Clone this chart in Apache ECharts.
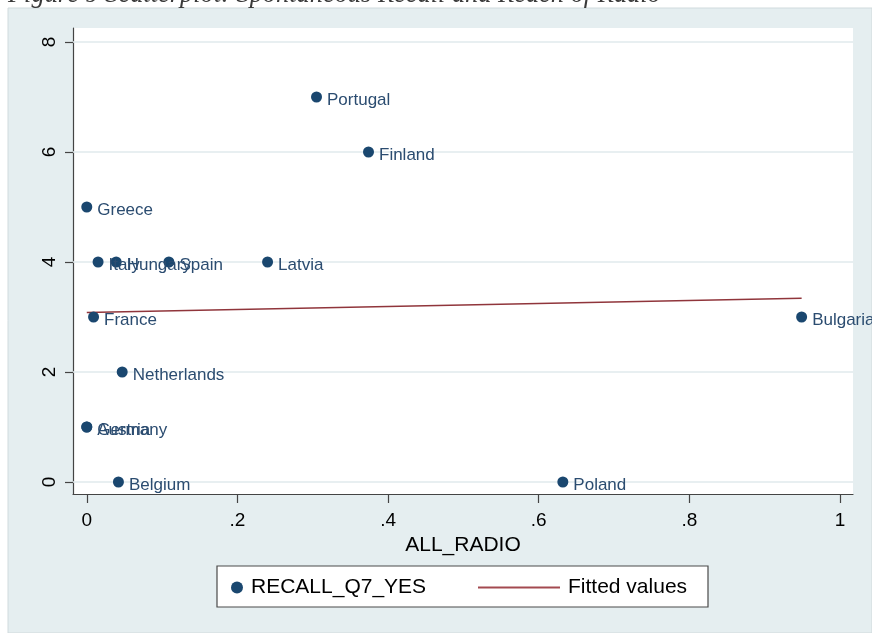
<!DOCTYPE html>
<html>
<head>
<meta charset="utf-8">
<title>Spontaneous Recall and Reach of Radio</title>
<script src="https://cdn.jsdelivr.net/npm/echarts@6/dist/echarts.min.js"></script>
<style>
  html, body { margin: 0; padding: 0; background: #ffffff; }
  #chart { width: 872px; height: 633px; }
</style>
</head>
<body>
<div id="chart"></div>
<script>
// Country-level observations: share reached by radio vs. spontaneous recall count
const countries = ['Portugal', 'Finland', 'Greece', 'Italy', 'Hungary', 'Spain', 'Latvia',
  'France', 'Bulgaria', 'Netherlands', 'Austria', 'Germany', 'Belgium', 'Poland'];
const radioReach = [0.305, 0.374, 0.0, 0.015, 0.039, 0.109, 0.240,
  0.009, 0.949, 0.047, 0.0, 0.0, 0.042, 0.632];
const recallYes = [7, 6, 5, 4, 4, 4, 4, 3, 3, 2, 1, 1, 0, 0];

// Linear fit endpoints over the observed range of ALL_RADIO
const fitX = [0, 0.949];
const fitY = [3.08, 3.34];

// Axis ticks
const xTicks = [0, 0.2, 0.4, 0.6, 0.8, 1];
const xTickLabels = ['0', '.2', '.4', '.6', '.8', '1'];
const yTicks = [0, 2, 4, 6, 8];
const yTickLabels = ['0', '2', '4', '6', '8'];

const navy = '#1a476f';
const maroon = '#90353b';
const font = 'Liberation Sans, Arial, Helvetica, sans-serif';

const scatterData = countries.map((c, i) => ({ name: c, value: [radioReach[i], recallYes[i]] }));
const fitData = fitX.map((x, i) => [x, fitY[i]]);

const chart = echarts.init(document.getElementById('chart'), null, { renderer: 'canvas' });

chart.setOption({
  backgroundColor: '#ffffff',
  animation: false,
  textStyle: { fontFamily: font },
  graphic: [
    {
      type: 'rect', z: -10, silent: true,
      shape: { x: 8, y: 8, width: 864, height: 625 },
      style: { fill: '#e5eef0', stroke: '#d0dadd', lineWidth: 1 }
    },
    {
      type: 'text', z: 5, silent: true,
      x: 8, y: 8,
      style: {
        text: 'Figure 9 Scatterplot: Spontaneous Recall and Reach of Radio',
        font: 'italic 26.4px "Liberation Serif", "DejaVu Serif", serif',
        fill: '#3a3a3a', verticalAlign: 'bottom', align: 'left'
      }
    },
    {
      type: 'rect', z: 1, silent: true,
      shape: { x: 217, y: 566, width: 491, height: 41 },
      style: { fill: '#ffffff', stroke: '#4a4a4a', lineWidth: 1.2 }
    }
  ],
  grid: {
    left: 73, right: 19, top: 28, bottom: 139,
    show: true, backgroundColor: '#ffffff', borderWidth: 0
  },
  xAxis: {
    type: 'value',
    min: -0.0183, max: 1.0172,
    name: 'ALL_RADIO',
    nameLocation: 'middle',
    nameGap: 41,
    nameTextStyle: { fontSize: 21, color: '#000', fontFamily: font },
    axisLine: { show: true, onZero: false, lineStyle: { color: '#444', width: 1.2 } },
    axisTick: { show: true, length: 9, customValues: xTicks, lineStyle: { color: '#444', width: 1.2 } },
    axisLabel: {
      show: true, customValues: xTicks, margin: 17,
      fontSize: 19, color: '#000', fontFamily: font,
      formatter: v => xTickLabels[xTicks.indexOf(v)]
    },
    splitLine: { show: false }
  },
  yAxis: {
    type: 'value',
    min: -0.218, max: 8.2545,
    axisLine: { show: true, onZero: false, lineStyle: { color: '#444', width: 1.2 } },
    axisTick: { show: true, length: 8, customValues: yTicks, lineStyle: { color: '#444', width: 1.2 } },
    axisLabel: {
      show: true, customValues: yTicks, margin: 14, rotate: 90,
      fontSize: 19, color: '#000', fontFamily: font,
      formatter: v => yTickLabels[yTicks.indexOf(v)]
    },
    splitLine: { show: false }
  },
  legend: [
    {
      data: [{ name: 'RECALL_Q7_YES', icon: 'circle' }],
      left: 226, top: 572,
      itemWidth: 12, itemHeight: 12,
      textStyle: { fontSize: 21, color: '#000', fontFamily: font, padding: [0, 0, 0, 3] },
      selectedMode: false
    },
    {
      data: [{ name: 'Fitted values', icon: 'rect', itemStyle: { color: '#a34a50' } }],
      left: 473, top: 572,
      itemWidth: 82, itemHeight: 2,
      textStyle: { fontSize: 21, color: '#000', fontFamily: font, padding: [0, 0, 0, 3] },
      selectedMode: false
    }
  ],
  series: [
    {
      // horizontal grid lines at the y ticks
      name: 'grid',
      type: 'line',
      data: [],
      z: 1,
      silent: true,
      markLine: {
        silent: true,
        z: 1,
        symbol: 'none',
        label: { show: false },
        lineStyle: { color: '#e0eaec', width: 1.5, type: 'solid' },
        data: yTicks.map(v => ({ yAxis: v }))
      }
    },
    {
      name: 'RECALL_Q7_YES',
      type: 'scatter',
      z: 3,
      symbol: 'circle',
      symbolSize: 11,
      itemStyle: { color: navy, opacity: 1 },
      label: {
        show: true,
        position: 'right',
        distance: 5,
        offset: [0, 3],
        formatter: p => p.name,
        fontSize: 17,
        color: '#2b4c70',
        fontFamily: font
      },
      data: scatterData
    },
    {
      name: 'Fitted values',
      type: 'line',
      z: 2,
      symbol: 'none',
      showSymbol: false,
      lineStyle: { color: maroon, width: 1.5 },
      itemStyle: { color: maroon },
      data: fitData
    }
  ]
});
</script>
</body>
</html>
